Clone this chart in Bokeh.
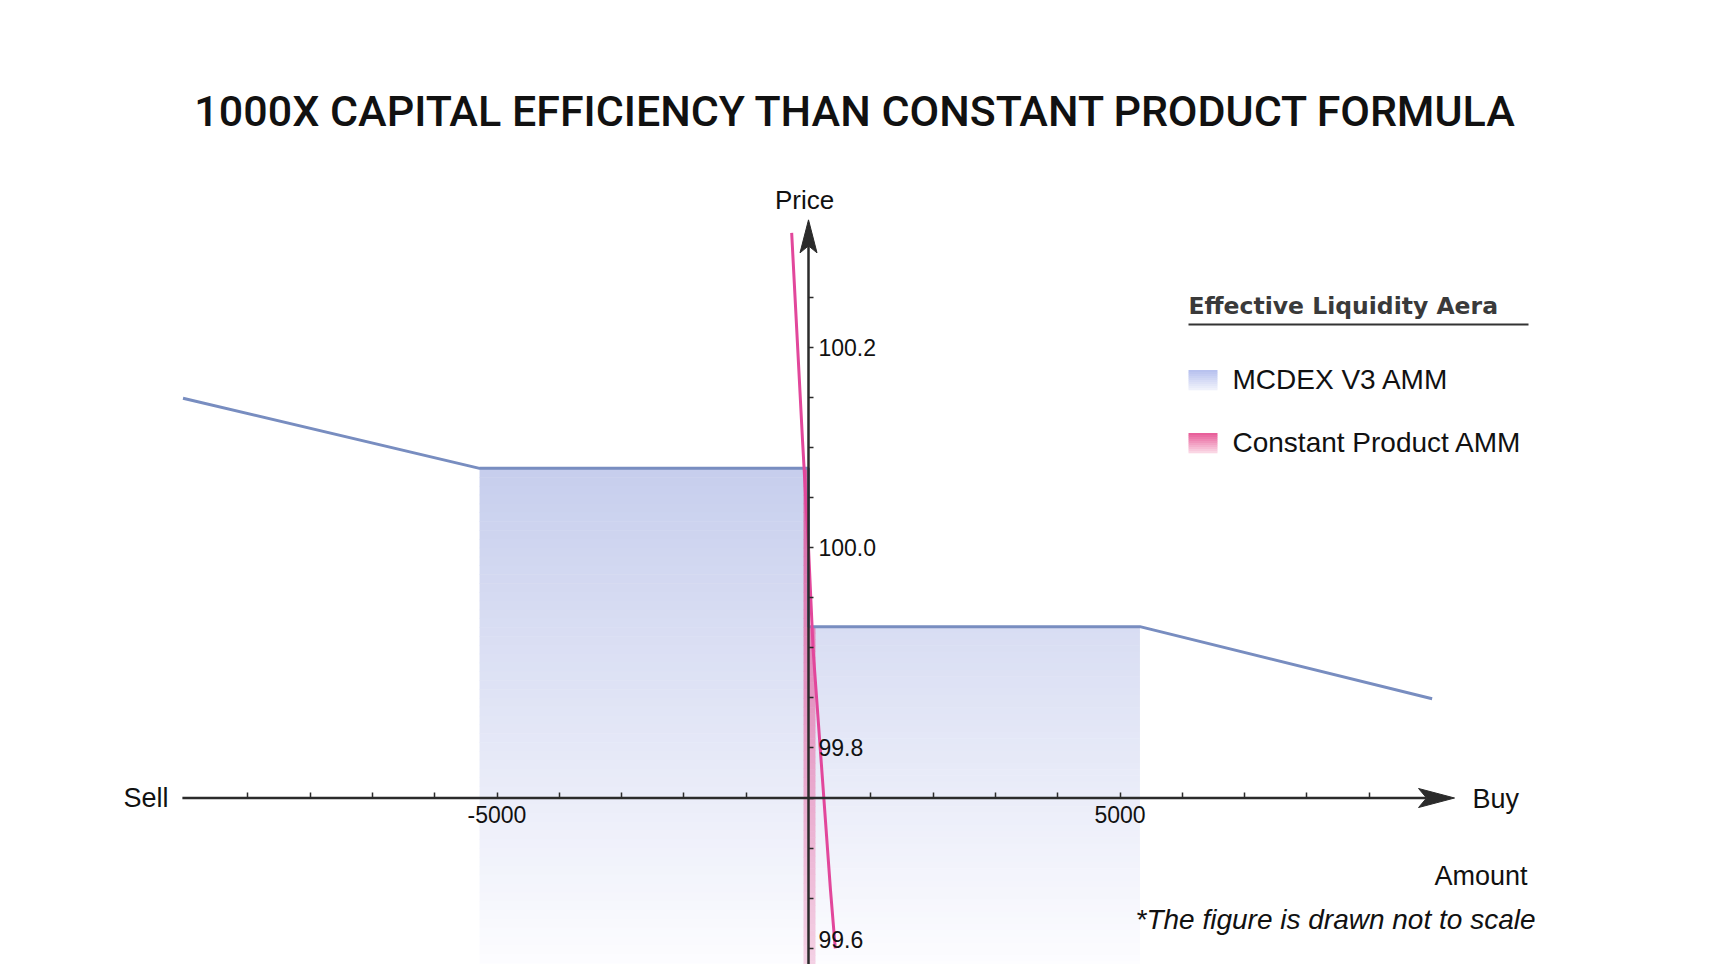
from bokeh.plotting import figure
from bokeh.models import (Range1d, LinearAxis, FixedTicker, PrintfTickFormatter,
                          Label, ColumnDataSource)
from bokeh.embed import file_html
from bokeh.resources import INLINE

# ---------------- data ----------------
mcdex_amount = [-10040, -5280, 0, 0, 5320, 10010]
mcdex_price = [100.149, 100.079, 100.079, 99.921, 99.921, 99.849]

cp_amount = [-270, -96, 0, 75, 353, 430]
cp_price = [100.314, 100.107, 100.0, 99.897, 99.658, 99.6]

mcdex_area_left = [-5280, 0]
mcdex_area_right = [0, 5320]
cp_area_left = [-80, 0]
cp_area_right = [0, 112]
area_top_left = 100.079
area_top_right = 99.921
area_bottom = 99.55

x_major_ticks = [-5000, 5000]
x_minor_ticks = [-9000, -8000, -7000, -6000, -4000, -3000, -2000, -1000,
                 1000, 2000, 3000, 4000, 6000, 7000, 8000, 9000]
x_tick_labels = {-5000: "-5000", 5000: "5000"}
y_major_ticks = [99.6, 99.8, 100.0, 100.2]
y_minor_ticks = [99.65, 99.7, 99.75, 99.85, 99.9, 99.95, 100.05, 100.1, 100.15, 100.25]
y_bottom_label = "99.6"

x_axis_price = 99.75
x_axis_span = [-10050, 10370]
y_axis_span = [99.55, 100.327]

title_text = "1000X CAPITAL EFFICIENCY THAN CONSTANT PRODUCT FORMULA"
legend_title = "Effective Liquidity Aera"
legend_labels = ["MCDEX V3 AMM", "Constant Product AMM"]

# ---------------- geometry helpers ----------------
W, H = 1711, 964
PXU = 0.0623      # px per amount unit
PYU = 1002.0      # px per price unit
X0, Y0 = 808, 547  # page px of (0, 100.0)


def dx(px):  # page px -> amount
    return (px - X0) / PXU


def dy(py):  # page px -> price
    return 100 + (Y0 - py) / PYU


def px_of(x):
    return X0 + x * PXU


def py_of(y):
    return Y0 - (y - 100) * PYU


p = figure(width=W, height=H, output_backend="svg", toolbar_location=None,
           x_range=Range1d(dx(0), dx(W)), y_range=Range1d(dy(H), dy(0)),
           x_axis_location=None, y_axis_location=None, min_border=0,
           outline_line_color=None, background_fill_color="white",
           border_fill_color="white")
p.grid.grid_line_color = None


def mix(c1, c2, t):
    return "#%02x%02x%02x" % tuple(int(round(a + (b - a) * t)) for a, b in zip(c1, c2))


G_TOP, G_BOT = 100.079, 99.58


def bands(left, right, top, bottom, c_top, c_bot, n=60):
    L, R, T, B, C = [], [], [], [], []
    step = (top - bottom) / n
    for i in range(n):
        t_ = top - i * step
        b_ = t_ - step
        mid = (t_ + b_) / 2
        f = min(max((G_TOP - mid) / (G_TOP - G_BOT), 0), 1)
        L.append(left); R.append(right); T.append(t_); B.append(b_ - 0.0005)
        C.append(mix(c_top, c_bot, f))
    return dict(left=L, right=R, top=T, bottom=B, color=C)


BLUE_T, BLUE_B = (199, 206, 237), (253, 253, 255)
PINK_T, PINK_B = (214, 98, 164), (244, 210, 229)

for (l, r), top in [(mcdex_area_left, area_top_left), (mcdex_area_right, area_top_right)]:
    src = ColumnDataSource(bands(l, r, top, area_bottom, BLUE_T, BLUE_B))
    p.quad(left="left", right="right", top="top", bottom="bottom", fill_color="color",
           line_color=None, source=src)

for (l, r), top in [(cp_area_left, area_top_left), (cp_area_right, area_top_right)]:
    src = ColumnDataSource(bands(l, r, top, area_bottom, PINK_T, PINK_B))
    p.quad(left="left", right="right", top="top", bottom="bottom", fill_color="color",
           line_color=None, source=src)

p.line(mcdex_amount, mcdex_price, line_color="#788dc0", line_width=3)
p.line(cp_amount, cp_price, line_color="#e2479b", line_width=3)

AX = "#2b2b2b"
TICK_FONT = "Liberation Sans"

xaxis = LinearAxis(fixed_location=x_axis_price,
                   ticker=FixedTicker(ticks=x_major_ticks, minor_ticks=x_minor_ticks),
                   major_label_overrides=x_tick_labels,
                   axis_line_color=None, major_tick_in=6, major_tick_out=0,
                   minor_tick_in=6, minor_tick_out=0,
                   major_tick_line_color=AX, minor_tick_line_color=AX,
                   major_tick_line_width=1.5, minor_tick_line_width=1.5,
                   major_label_standoff=8, major_label_text_font=TICK_FONT,
                   major_label_text_font_size="23px", major_label_text_color="#111111")
p.add_layout(xaxis, "below")

yaxis = LinearAxis(fixed_location=0,
                   ticker=FixedTicker(ticks=y_major_ticks, minor_ticks=y_minor_ticks),
                   formatter=PrintfTickFormatter(format="%.1f"),
                   major_label_overrides={y_major_ticks[0]: ""},
                   axis_line_color=None, major_tick_in=0, major_tick_out=5,
                   minor_tick_in=0, minor_tick_out=5,
                   major_tick_line_color=AX, minor_tick_line_color=AX,
                   major_tick_line_width=1.5, minor_tick_line_width=1.5,
                   major_label_standoff=5, major_label_text_font=TICK_FONT,
                   major_label_text_font_size="23px", major_label_text_color="#111111")
p.add_layout(yaxis, "right")

# axis lines with stealth arrow heads
tip_x = px_of(x_axis_span[1]); ax_y = py_of(x_axis_price)
p.line([x_axis_span[0], dx(tip_x - 28)], [x_axis_price, x_axis_price],
       line_color=AX, line_width=2.5)
p.patch([dx(tip_x), dx(tip_x - 36), dx(tip_x - 28), dx(tip_x - 36)],
        [dy(ax_y), dy(ax_y - 9.5), dy(ax_y), dy(ax_y + 9.5)],
        fill_color=AX, line_color=AX, line_width=1)

tip_y = py_of(y_axis_span[1]); ax_x = px_of(0)
p.line([0, 0], [y_axis_span[0], dy(tip_y + 26)], line_color=AX, line_width=2.5)
p.patch([dx(ax_x), dx(ax_x - 8.5), dx(ax_x), dx(ax_x + 8.5)],
        [dy(tip_y), dy(tip_y + 33), dy(tip_y + 26), dy(tip_y + 33)],
        fill_color=AX, line_color=AX, line_width=1)


def label(text, px, py, size, align="left", color="#111111", font="Liberation Sans",
          style="normal"):
    p.add_layout(Label(x=dx(px), y=dy(py), text=text, text_font=font,
                       text_font_size=size, text_align=align, text_baseline="middle",
                       text_color=color, text_font_style=style))


label(y_bottom_label, 818, 939, "23px")
label(title_text, 856, 110, "43px", align="center", font="Roboto Medium, Roboto")
label("Price", 804, 199, "26px", align="center")
label("Sell", 168, 797, "27px", align="right")
label("Buy", 1472, 798, "27px")
label("Amount", 1527, 875, "27px", align="right")
label("*The figure is drawn not to scale", 1535, 919, "28px", align="right",
      style="italic")

# legend
LX = 1188
label(legend_title, LX, 305, "23.5px", color="#3a3a3a", font="DejaVu Sans", style="bold")
p.line([dx(LX), dx(1528)], [dy(324), dy(324)], line_color="#333333", line_width=2)

for i, (txt, ct, cb) in enumerate([(legend_labels[0], (184, 194, 239), (239, 241, 251)),
                                   (legend_labels[1], (232, 96, 155), (250, 214, 228))]):
    cy = 379.5 + i * 63
    n = 10
    Ls, Rs, Ts, Bs, Cs = [], [], [], [], []
    for k in range(n):
        t_ = cy - 10 + k * 2
        Ls.append(dx(LX)); Rs.append(dx(LX + 29))
        Ts.append(dy(t_)); Bs.append(dy(t_ + 2.3))
        Cs.append(mix(ct, cb, k / (n - 1)))
    p.quad(left=Ls, right=Rs, top=Ts, bottom=Bs, fill_color=Cs, line_color=None)
    label(txt, 1232, cy - 1, "28px")

open("out.html", "w").write(file_html(p, INLINE))
